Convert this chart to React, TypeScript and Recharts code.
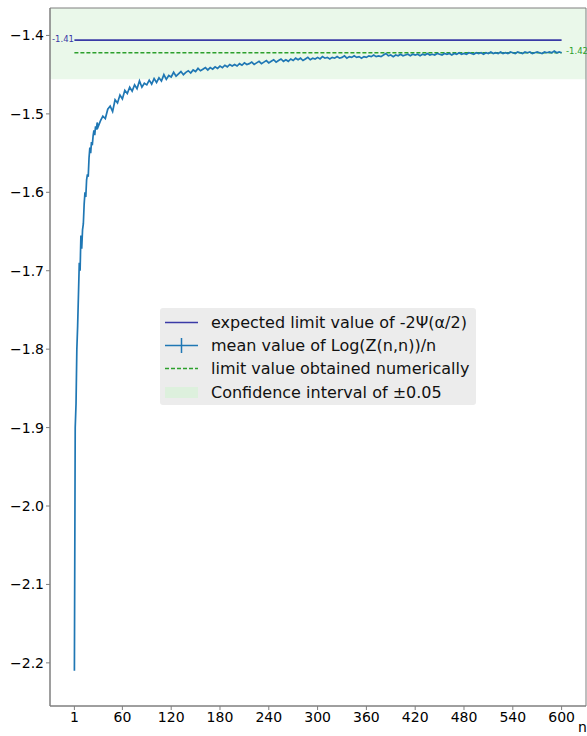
import React from 'react'
import {ComposedChart, Line, XAxis, YAxis, ReferenceArea} from 'recharts'

const nValues = [
  1, 2, 3, 4, 5, 6, 7, 8, 9, 10, 11, 12, 13, 14, 15, 16, 17, 18, 19, 20, 21, 22, 23, 24, 25, 26, 27, 28, 29, 30,
  33, 36, 39, 42, 45, 48, 51, 54, 57, 60, 63, 66, 69, 72, 75, 78, 81, 84, 87, 90, 93, 96, 99, 102, 105, 108,
  111, 114, 117, 120, 123, 126, 129, 132, 135, 138, 141, 144, 147, 150, 153, 156, 159, 162, 165, 168, 171,
  174, 177, 180, 183, 186, 189, 192, 195, 198, 201, 204, 207, 210, 213, 216, 219, 222, 225, 228, 231, 234,
  237, 240, 243, 246, 249, 252, 255, 258, 261, 264, 267, 270, 273, 276, 279, 282, 285, 288, 291, 294, 297,
  300, 303, 306, 309, 312, 315, 318, 321, 324, 327, 330, 333, 336, 339, 342, 345, 348, 351, 354, 357, 360,
  363, 366, 369, 372, 375, 378, 381, 384, 387, 390, 393, 396, 399, 402, 405, 408, 411, 414, 417, 420, 423,
  426, 429, 432, 435, 438, 441, 444, 447, 450, 453, 456, 459, 462, 465, 468, 471, 474, 477, 480, 483, 486,
  489, 492, 495, 498, 501, 504, 507, 510, 513, 516, 519, 522, 525, 528, 531, 534, 537, 540, 543, 546, 549,
  552, 555, 558, 561, 564, 567, 570, 573, 576, 579, 582, 585, 588, 591, 594, 597, 600
]

const meanValues = [
  -2.21, -1.9, -1.87, -1.8, -1.77, -1.73, -1.69, -1.7, -1.655, -1.672, -1.648, -1.64, -1.615, -1.6, -1.606,
  -1.584, -1.577, -1.58, -1.556, -1.543, -1.55, -1.536, -1.54, -1.528, -1.521, -1.527, -1.516, -1.52, -1.511, -1.517,
  -1.509, -1.503, -1.506, -1.494, -1.49, -1.497, -1.482, -1.486, -1.476, -1.481, -1.47, -1.474, -1.466, -1.471,
  -1.463, -1.468, -1.458, -1.466, -1.461, -1.463, -1.457, -1.462, -1.455, -1.46, -1.454, -1.458,
  -1.45, -1.456, -1.451, -1.453, -1.447, -1.452, -1.449, -1.446, -1.45, -1.447, -1.445, -1.448, -1.444, -1.446,
  -1.442, -1.445, -1.443, -1.441, -1.444, -1.441, -1.443,
  -1.44, -1.442, -1.439, -1.441, -1.438, -1.44, -1.437, -1.439, -1.437, -1.439, -1.436, -1.438, -1.435, -1.437,
  -1.436, -1.434, -1.437, -1.435, -1.433, -1.436, -1.434,
  -1.432, -1.435, -1.433, -1.431, -1.434, -1.432, -1.43, -1.433, -1.431, -1.433, -1.43, -1.432, -1.429, -1.431,
  -1.429, -1.432, -1.43, -1.428, -1.431, -1.429, -1.43,
  -1.428, -1.43, -1.427, -1.429, -1.428, -1.43, -1.428, -1.429, -1.427, -1.429, -1.428, -1.426, -1.429, -1.427,
  -1.428, -1.426, -1.428, -1.427, -1.429, -1.427, -1.428,
  -1.426, -1.427, -1.425, -1.427, -1.426, -1.427, -1.425, -1.423, -1.426, -1.425, -1.427, -1.425, -1.426, -1.424,
  -1.426, -1.425, -1.424, -1.426, -1.424, -1.425, -1.424,
  -1.426, -1.424, -1.425, -1.423, -1.425, -1.424, -1.425, -1.423, -1.424, -1.425, -1.423, -1.424, -1.423, -1.425,
  -1.423, -1.424, -1.422, -1.424, -1.423, -1.424, -1.422,
  -1.423, -1.424, -1.422, -1.423, -1.422, -1.424, -1.422, -1.423, -1.421, -1.423, -1.422, -1.423, -1.421, -1.423,
  -1.422, -1.423, -1.421, -1.422, -1.423, -1.421, -1.422,
  -1.423, -1.421, -1.422, -1.421, -1.423, -1.422, -1.421, -1.422, -1.423, -1.421, -1.422, -1.421, -1.422, -1.42,
  -1.422, -1.421, -1.422
]

const expectedLimit = -1.406
const numericLimit = -1.422
const confidence = 0.05
const limitRange = [1, 600]
const xTicks = [1, 60, 120, 180, 240, 300, 360, 420, 480, 540, 600]
const yTicks = [-2.2, -2.1, -2.0, -1.9, -1.8, -1.7, -1.6, -1.5, -1.4]
const xDomain = [-29, 630]
const yDomain = [-2.255, -1.365]

const meanData = nValues.map((n, i) => ({n, v: meanValues[i]}))
const expectedData = limitRange.map(n => ({n, v: expectedLimit}))
const numericData = limitRange.map(n => ({n, v: numericLimit}))

const FONT = '"DejaVu Sans", sans-serif'
const BLUE = '#1f77b4'
const NAVY = '#3a3aa6'
const GREEN = '#2ca02c'
const SPINE = '#7f7f7f'

const fmtY = (v: number) => v.toFixed(1).replace('-', '\u2212')

function LegendBox(){
  const rows = [
    {label: 'expected limit value of -2\u03a8(\u03b1/2)', kind: 'navy'},
    {label: 'mean value of Log(Z(n,n))/n', kind: 'mean'},
    {label: 'limit value obtained numerically', kind: 'dash'},
    {label: 'Confidence interval of \u00b10.05', kind: 'patch'},
  ]
  return (
    <div style={{position:'absolute', left:160, top:308, width:316, height:97, background:'#ececec',
      borderRadius:3, fontFamily:FONT, fontSize:16, color:'#111', boxSizing:'border-box', paddingTop:3}}>
      {rows.map(r => (
        <div key={r.label} style={{height:23.2, display:'flex', alignItems:'center'}}>
          <svg width={51} height={23} style={{flex:'none'}}>
            {r.kind === 'navy' && <line x1={5} x2={38} y1={11.5} y2={11.5} stroke={NAVY} strokeWidth={1.5} />}
            {r.kind === 'mean' && <g>
              <line x1={5} x2={38} y1={11.5} y2={11.5} stroke={BLUE} strokeWidth={1.5} />
              <line x1={21.5} x2={21.5} y1={4} y2={19} stroke={BLUE} strokeWidth={1.5} />
            </g>}
            {r.kind === 'dash' && <line x1={5} x2={38} y1={11.5} y2={11.5} stroke={GREEN} strokeWidth={1.5} strokeDasharray="4 2" />}
            {r.kind === 'patch' && <rect x={5} y={6} width={33} height={11} fill="#ddf0dd" />}
          </svg>
          <span style={{whiteSpace:'nowrap'}}>{r.label}</span>
        </div>
      ))}
    </div>
  )
}

export default function App(){
  return (
    <div style={{position:'absolute', left:0, top:0, width:587, height:736, overflow:'hidden', background:'#fff'}}>
      <ComposedChart width={587} height={736} margin={{top:8, right:1, bottom:0, left:0}}>
        <ReferenceArea x1={xDomain[0]} x2={xDomain[1]} y1={expectedLimit - confidence} y2={expectedLimit + confidence}
          fill="#eaf8ea" fillOpacity={1} stroke="none" ifOverflow="hidden" />
        <XAxis type="number" dataKey="n" domain={xDomain} ticks={xTicks} allowDataOverflow height={30}
          tickSize={4} tickMargin={2} stroke={SPINE}
          tick={{fill:'#000', fontSize:14, fontFamily:FONT}} />
        <YAxis type="number" dataKey="v" domain={yDomain} ticks={yTicks} allowDataOverflow width={50}
          tickSize={4} tickMargin={2} stroke={SPINE} tickFormatter={fmtY}
          tick={{fill:'#000', fontSize:14, fontFamily:FONT}} />
        <Line data={expectedData} dataKey="v" stroke={NAVY} strokeWidth={1.8} dot={false} isAnimationActive={false} />
        <Line data={numericData} dataKey="v" stroke={GREEN} strokeWidth={1.4} strokeDasharray="4 2" dot={false} isAnimationActive={false} />
        <Line data={meanData} dataKey="v" type="linear" stroke={BLUE} strokeWidth={1.7} dot={false} isAnimationActive={false} />
        <ReferenceArea x1={xDomain[0]} x2={xDomain[1]} y1={yDomain[0]} y2={yDomain[1]}
          fill="none" stroke={SPINE} strokeWidth={1} ifOverflow="visible" />
      </ComposedChart>
      <span style={{position:'absolute', left:52, top:34, fontFamily:FONT, fontSize:8.5, color:NAVY}}>-1.41</span>
      <span style={{position:'absolute', left:566, top:46, fontFamily:FONT, fontSize:8.5, color:GREEN}}>-1.42</span>
      <span style={{position:'absolute', left:578, top:719, fontFamily:FONT, fontSize:14, color:'#000'}}>n</span>
      <LegendBox />
    </div>
  )
}
